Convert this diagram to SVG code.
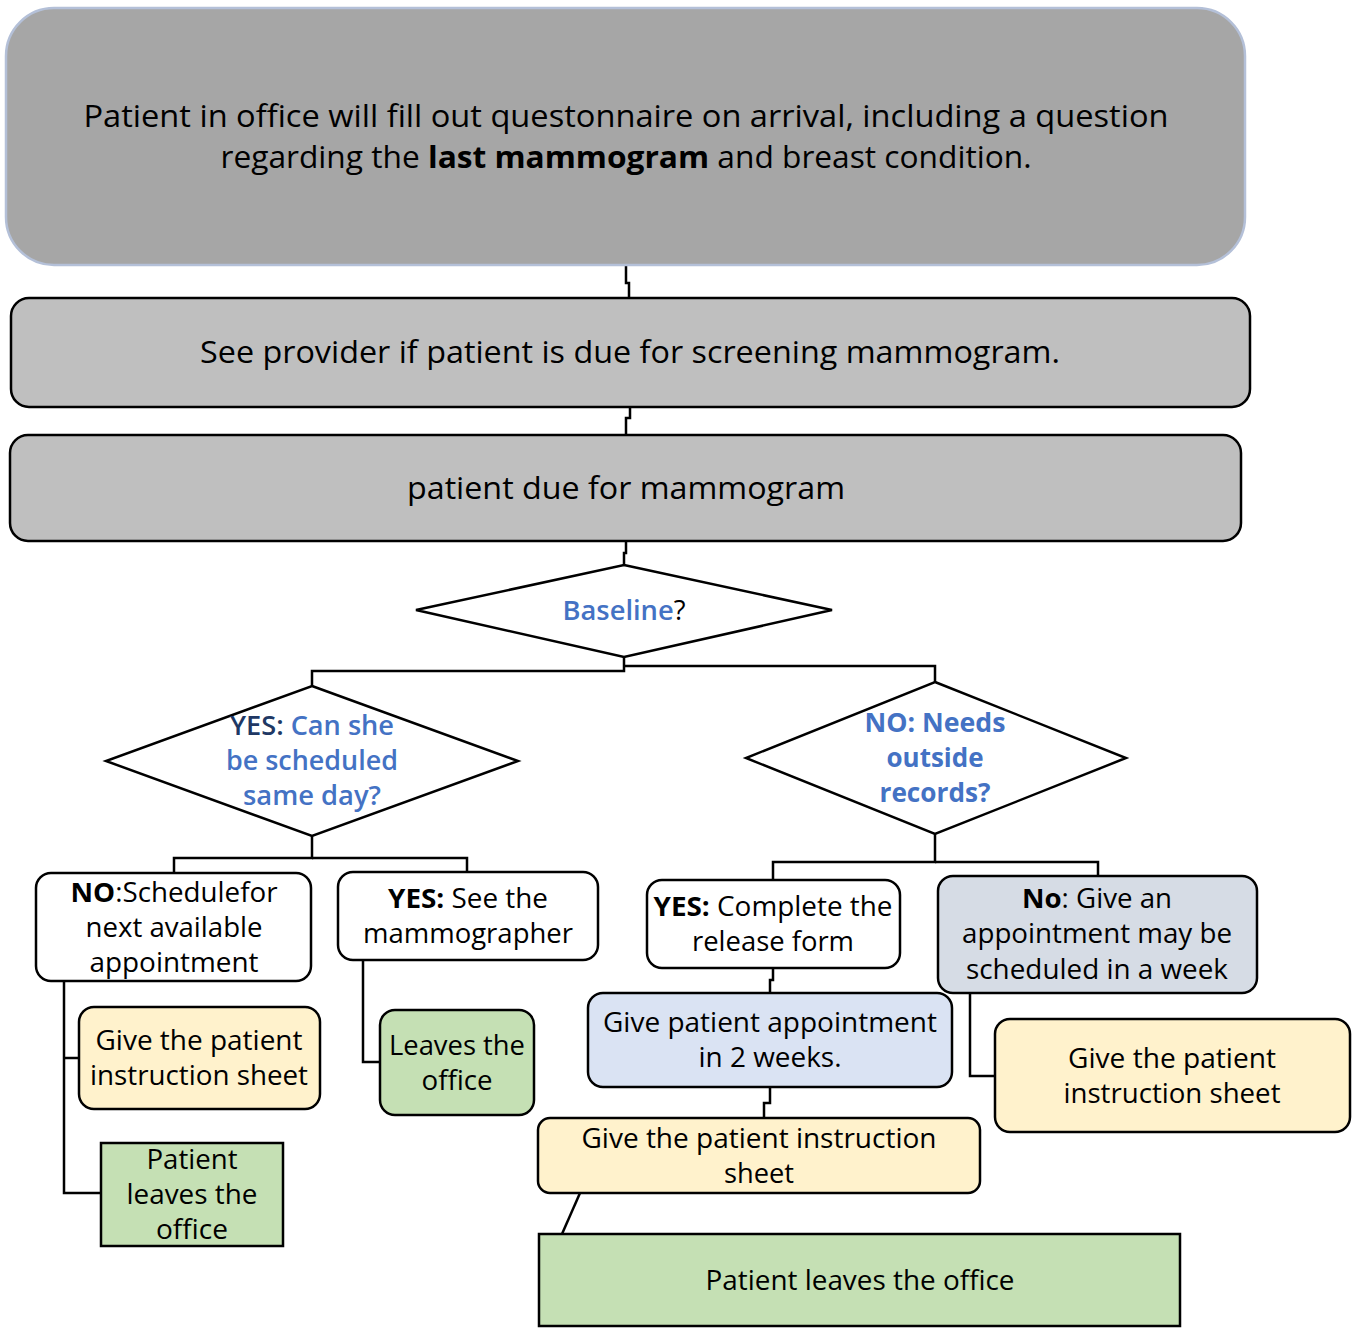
<svg xmlns="http://www.w3.org/2000/svg" width="1356" height="1332" viewBox="0 0 1356 1332">
  <style>
    text { font-family: "Open Sans", "Noto Sans", "Liberation Sans", sans-serif; font-size: 27px; fill: #000; text-anchor: middle; }
    .big { font-size: 31px; }
    .b { font-weight: bold; }
    .sb { font-weight: 600; }
    .blue { fill: #4472c4; }
    .navy { fill: #203864; }
    .box { stroke: #000; stroke-width: 2.5; }
    .gray { fill: #bfbfbf; }
    .white { fill: #ffffff; }
    .yellow { fill: #fff2cc; }
    .green { fill: #c5e0b4; }
    .lblue { fill: #dae3f3; }
    .slate { fill: #d6dce5; }
    #connectors path { fill: none; stroke: #000; stroke-width: 2.5; }
  </style>

  <rect width="1356" height="1332" fill="#ffffff"/>

  <g id="connectors">
    <path d="M626 265 V283 H629 V298"/>
    <path d="M630 407 V418 H626 V435"/>
    <path d="M626 541 V553 H624 V565"/>
    <path d="M624 657 V671 H312 V686"/>
    <path d="M624 666 H935 V682"/>
    <path d="M312 836 V858 H174 V873"/>
    <path d="M312 858 H467 V872"/>
    <path d="M64 981 V1193 H101"/>
    <path d="M64 1058 H79"/>
    <path d="M363 960 V1062 H380"/>
    <path d="M935 834 V862 H773 V880"/>
    <path d="M935 862 H1098 V876"/>
    <path d="M773 968 V980 H770 V993"/>
    <path d="M770 1087 V1103 H764 V1118"/>
    <path d="M580 1193 L562 1234"/>
    <path d="M970 993 V1076 H995"/>
  </g>

  <g id="intake">
    <rect x="6" y="8" width="1239" height="257" rx="48" fill="#a6a6a6" stroke="#b4c0d8" stroke-width="2.5"/>
    <text class="big" x="626" y="127" textLength="1085" lengthAdjust="spacingAndGlyphs">Patient in office will fill out questonnaire on arrival, including a question</text>
    <text class="big" x="626" y="168" textLength="811" lengthAdjust="spacingAndGlyphs">regarding the <tspan class="b">last mammogram</tspan> and breast condition.</text>
  </g>

  <g id="see-provider">
    <rect class="box gray" x="11" y="298" width="1239" height="109" rx="18"/>
    <text class="big" x="630" y="363" textLength="860" lengthAdjust="spacingAndGlyphs">See provider if patient is due for screening mammogram.</text>
  </g>

  <g id="due">
    <rect class="box gray" x="10" y="435" width="1231" height="106" rx="18"/>
    <text class="big" x="626" y="499" textLength="438" lengthAdjust="spacingAndGlyphs">patient due for mammogram</text>
  </g>

  <g id="baseline">
    <polygon class="box white" points="624,565 832,610 624,657 416,610"/>
    <text x="624" y="620" textLength="123" lengthAdjust="spacingAndGlyphs"><tspan class="blue sb">Baseline</tspan>?</text>
  </g>

  <g id="same-day">
    <polygon class="box white" points="312,686 518,761 312,836 106,761"/>
    <text class="blue sb" x="312" y="735" textLength="164" lengthAdjust="spacingAndGlyphs"><tspan class="navy">YES:</tspan> Can she</text>
    <text class="blue sb" x="312" y="770" textLength="172" lengthAdjust="spacingAndGlyphs">be scheduled</text>
    <text class="blue sb" x="312" y="805" textLength="138" lengthAdjust="spacingAndGlyphs">same day?</text>
  </g>

  <g id="outside-records">
    <polygon class="box white" points="935,682 1126,758 935,834 746,758"/>
    <text class="blue b" x="935" y="732" textLength="141" lengthAdjust="spacingAndGlyphs">NO: Needs</text>
    <text class="blue b" x="935" y="767" textLength="97" lengthAdjust="spacingAndGlyphs">outside</text>
    <text class="blue b" x="935" y="802" textLength="111" lengthAdjust="spacingAndGlyphs">records?</text>
  </g>

  <g id="schedule-next">
    <rect class="box white" x="36" y="873" width="275" height="108" rx="15"/>
    <text x="174" y="902" textLength="207" lengthAdjust="spacingAndGlyphs"><tspan class="b">NO</tspan>:Schedulefor</text>
    <text x="174" y="937" textLength="177" lengthAdjust="spacingAndGlyphs">next available</text>
    <text x="174" y="972" textLength="169" lengthAdjust="spacingAndGlyphs">appointment</text>
  </g>

  <g id="see-mammographer">
    <rect class="box white" x="338" y="872" width="260" height="88" rx="15"/>
    <text x="468" y="908" textLength="160" lengthAdjust="spacingAndGlyphs"><tspan class="b">YES:</tspan> See the</text>
    <text x="468" y="943" textLength="210" lengthAdjust="spacingAndGlyphs">mammographer</text>
  </g>

  <g id="sheet-left">
    <rect class="box yellow" x="79" y="1007" width="241" height="102" rx="15"/>
    <text x="199" y="1050" textLength="207" lengthAdjust="spacingAndGlyphs">Give the patient</text>
    <text x="199" y="1085" textLength="218" lengthAdjust="spacingAndGlyphs">instruction sheet</text>
  </g>

  <g id="leaves-left">
    <rect class="box green" x="101" y="1143" width="182" height="103"/>
    <text x="192" y="1169" textLength="91" lengthAdjust="spacingAndGlyphs">Patient</text>
    <text x="192" y="1204" textLength="131" lengthAdjust="spacingAndGlyphs">leaves the</text>
    <text x="192" y="1239" textLength="72" lengthAdjust="spacingAndGlyphs">office</text>
  </g>

  <g id="leaves-mid">
    <rect class="box green" x="380" y="1010" width="154" height="105" rx="15"/>
    <text x="457" y="1055" textLength="136" lengthAdjust="spacingAndGlyphs">Leaves the</text>
    <text x="457" y="1090" textLength="71" lengthAdjust="spacingAndGlyphs">office</text>
  </g>

  <g id="release-form">
    <rect class="box white" x="647" y="880" width="253" height="88" rx="15"/>
    <text x="773" y="916" textLength="239" lengthAdjust="spacingAndGlyphs"><tspan class="b">YES:</tspan> Complete the</text>
    <text x="773" y="951" textLength="162" lengthAdjust="spacingAndGlyphs">release form</text>
  </g>

  <g id="week-appointment">
    <rect class="box slate" x="938" y="876" width="319" height="117" rx="15"/>
    <text x="1097" y="908" textLength="150" lengthAdjust="spacingAndGlyphs"><tspan class="b">No</tspan>: Give an</text>
    <text x="1097" y="943" textLength="270" lengthAdjust="spacingAndGlyphs">appointment may be</text>
    <text x="1097" y="979" textLength="262" lengthAdjust="spacingAndGlyphs">scheduled in a week</text>
  </g>

  <g id="two-weeks">
    <rect class="box lblue" x="588" y="993" width="364" height="94" rx="15"/>
    <text x="770" y="1032" textLength="334" lengthAdjust="spacingAndGlyphs">Give patient appointment</text>
    <text x="770" y="1067" textLength="143" lengthAdjust="spacingAndGlyphs">in 2 weeks.</text>
  </g>

  <g id="sheet-mid">
    <rect class="box yellow" x="538" y="1118" width="442" height="75" rx="12"/>
    <text x="759" y="1148" textLength="355" lengthAdjust="spacingAndGlyphs">Give the patient instruction</text>
    <text x="759" y="1183" textLength="70" lengthAdjust="spacingAndGlyphs">sheet</text>
  </g>

  <g id="sheet-right">
    <rect class="box yellow" x="995" y="1019" width="355" height="113" rx="15"/>
    <text x="1172" y="1068" textLength="208" lengthAdjust="spacingAndGlyphs">Give the patient</text>
    <text x="1172" y="1103" textLength="217" lengthAdjust="spacingAndGlyphs">instruction sheet</text>
  </g>

  <g id="leaves-bottom">
    <rect class="box green" x="539" y="1234" width="641" height="92"/>
    <text x="860" y="1290" textLength="309" lengthAdjust="spacingAndGlyphs">Patient leaves the office</text>
  </g>
</svg>
